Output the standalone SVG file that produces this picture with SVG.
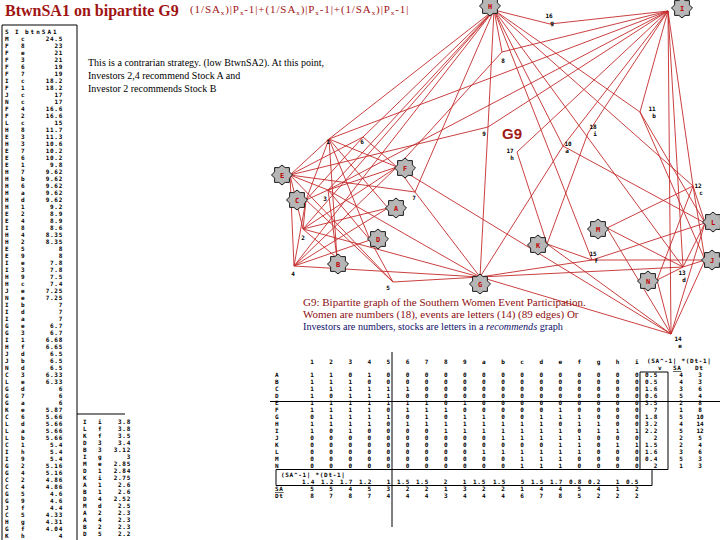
<svg xmlns="http://www.w3.org/2000/svg" width="720" height="540" viewBox="0 0 720 540">
<style>
.px{font-family:"DejaVu Sans Mono",monospace;font-size:6px;font-weight:bold;fill:#000;letter-spacing:0.7px}
.pxe{font-family:"DejaVu Sans Mono",monospace;font-size:6px;font-weight:bold;fill:#000;text-anchor:end;letter-spacing:0.7px}
.pxm{font-family:"DejaVu Sans Mono",monospace;font-size:6px;font-weight:bold;fill:#000;text-anchor:middle}
.row{font-family:"DejaVu Sans Mono",monospace;font-size:6px;font-weight:bold;fill:#000;letter-spacing:15.49px}
.nl{font-family:"DejaVu Sans Mono",monospace;font-size:7px;font-weight:bold;fill:#c00000;text-anchor:middle}
.wl{font-family:"DejaVu Sans Mono",monospace;font-size:6px;font-weight:bold;fill:#000;text-anchor:middle}
.ser{font-family:"Liberation Serif",serif}
.edge line{stroke:#c42a2a;stroke-width:0.9}
.rule{stroke:#000;stroke-width:1;fill:none}
</style>
<defs>
<polygon id="star" points="10.5,0 7.4,3.1 7.4,7.4 3.1,7.4 0,10 -3.1,7.4 -7.4,7.4 -7.4,3.1 -10.5,0 -7.4,-3.1 -7.4,-7.4 -3.1,-7.4 0,-10 3.1,-7.4 7.4,-7.4 7.4,-3.1" fill="#b6b6b6" stroke="#1a1a1a" stroke-width="1"/>
</defs>
<rect width="720" height="540" fill="#fff"/>

<!-- title -->
<text x="5" y="16" class="ser" font-size="16" font-weight="bold" fill="#a01414">BtwnSA1 on bipartite G9</text>
<text x="190" y="13" class="ser" font-size="11" letter-spacing="0.9" fill="#a01414">(1/SA<tspan font-size="7" dy="2">x</tspan><tspan dy="-2">)|P</tspan><tspan font-size="7" dy="2">x</tspan><tspan dy="-2">-1|+(1/SA</tspan><tspan font-size="7" dy="2">x</tspan><tspan dy="-2">)|P</tspan><tspan font-size="7" dy="2">x</tspan><tspan dy="-2">-1|+(1/SA</tspan><tspan font-size="7" dy="2">x</tspan><tspan dy="-2">)|P</tspan><tspan font-size="7" dy="2">x</tspan><tspan dy="-2">-1|</tspan></text>

<g id="note" class="ser" font-size="10" fill="#000">
<text x="88" y="66">This is a contrarian strategy. (low BtwnSA2). At this point,</text>
<text x="88" y="79">Investors 2,4 recommend Stock A and</text>
<text x="88" y="92">Investor 2  recommends Stock B</text>
</g>

<!-- left list -->
<g id="list">
<path class="rule" d="M2,25 H77 M2,25 V540 M77,25 V540 M77,414 H125"/>
<text class="px" y="34"><tspan x="5">S</tspan><tspan x="15">I</tspan><tspan x="25" letter-spacing="2">btnSA1</tspan></text>
<text class="px" y="41"><tspan x="5">M</tspan><tspan x="21">c</tspan></text><text class="pxe" x="63" y="41">24.5</text>
<text class="px" y="48"><tspan x="5">F</tspan><tspan x="21">8</tspan></text><text class="pxe" x="63" y="48">23</text>
<text class="px" y="55"><tspan x="5">F</tspan><tspan x="21">e</tspan></text><text class="pxe" x="63" y="55">21</text>
<text class="px" y="62"><tspan x="5">F</tspan><tspan x="21">3</tspan></text><text class="pxe" x="63" y="62">21</text>
<text class="px" y="69"><tspan x="5">F</tspan><tspan x="21">6</tspan></text><text class="pxe" x="63" y="69">19</text>
<text class="px" y="76"><tspan x="5">F</tspan><tspan x="21">7</tspan></text><text class="pxe" x="63" y="76">19</text>
<text class="px" y="83"><tspan x="5">I</tspan><tspan x="21">c</tspan></text><text class="pxe" x="63" y="83">18.2</text>
<text class="px" y="90"><tspan x="5">F</tspan><tspan x="21">1</tspan></text><text class="pxe" x="63" y="90">18.2</text>
<text class="px" y="97"><tspan x="5">J</tspan><tspan x="21">c</tspan></text><text class="pxe" x="63" y="97">17</text>
<text class="px" y="104"><tspan x="5">N</tspan><tspan x="21">c</tspan></text><text class="pxe" x="63" y="104">17</text>
<text class="px" y="111"><tspan x="5">F</tspan><tspan x="21">4</tspan></text><text class="pxe" x="63" y="111">16.6</text>
<text class="px" y="118"><tspan x="5">F</tspan><tspan x="21">2</tspan></text><text class="pxe" x="63" y="118">16.6</text>
<text class="px" y="125"><tspan x="5">L</tspan><tspan x="21">c</tspan></text><text class="pxe" x="63" y="125">15</text>
<text class="px" y="132"><tspan x="5">H</tspan><tspan x="21">8</tspan></text><text class="pxe" x="63" y="132">11.7</text>
<text class="px" y="139"><tspan x="5">E</tspan><tspan x="21">3</tspan></text><text class="pxe" x="63" y="139">11.3</text>
<text class="px" y="146"><tspan x="5">H</tspan><tspan x="21">3</tspan></text><text class="pxe" x="63" y="146">10.6</text>
<text class="px" y="153"><tspan x="5">E</tspan><tspan x="21">7</tspan></text><text class="pxe" x="63" y="153">10.2</text>
<text class="px" y="160"><tspan x="5">E</tspan><tspan x="21">6</tspan></text><text class="pxe" x="63" y="160">10.2</text>
<text class="px" y="167"><tspan x="5">E</tspan><tspan x="21">1</tspan></text><text class="pxe" x="63" y="167">9.8</text>
<text class="px" y="174"><tspan x="5">H</tspan><tspan x="21">7</tspan></text><text class="pxe" x="63" y="174">9.62</text>
<text class="px" y="181"><tspan x="5">H</tspan><tspan x="21">b</tspan></text><text class="pxe" x="63" y="181">9.62</text>
<text class="px" y="188"><tspan x="5">H</tspan><tspan x="21">6</tspan></text><text class="pxe" x="63" y="188">9.62</text>
<text class="px" y="195"><tspan x="5">H</tspan><tspan x="21">a</tspan></text><text class="pxe" x="63" y="195">9.62</text>
<text class="px" y="202"><tspan x="5">H</tspan><tspan x="21">d</tspan></text><text class="pxe" x="63" y="202">9.62</text>
<text class="px" y="209"><tspan x="5">H</tspan><tspan x="21">1</tspan></text><text class="pxe" x="63" y="209">9.2</text>
<text class="px" y="216"><tspan x="5">E</tspan><tspan x="21">2</tspan></text><text class="pxe" x="63" y="216">8.9</text>
<text class="px" y="223"><tspan x="5">E</tspan><tspan x="21">4</tspan></text><text class="pxe" x="63" y="223">8.9</text>
<text class="px" y="230"><tspan x="5">I</tspan><tspan x="21">8</tspan></text><text class="pxe" x="63" y="230">8.6</text>
<text class="px" y="237"><tspan x="5">H</tspan><tspan x="21">4</tspan></text><text class="pxe" x="63" y="237">8.35</text>
<text class="px" y="244"><tspan x="5">H</tspan><tspan x="21">2</tspan></text><text class="pxe" x="63" y="244">8.35</text>
<text class="px" y="251"><tspan x="5">E</tspan><tspan x="21">5</tspan></text><text class="pxe" x="63" y="251">8</text>
<text class="px" y="258"><tspan x="5">E</tspan><tspan x="21">9</tspan></text><text class="pxe" x="63" y="258">8</text>
<text class="px" y="265"><tspan x="5">I</tspan><tspan x="21">e</tspan></text><text class="pxe" x="63" y="265">7.8</text>
<text class="px" y="272"><tspan x="5">I</tspan><tspan x="21">3</tspan></text><text class="pxe" x="63" y="272">7.8</text>
<text class="px" y="279"><tspan x="5">H</tspan><tspan x="21">9</tspan></text><text class="pxe" x="63" y="279">7.5</text>
<text class="px" y="286"><tspan x="5">H</tspan><tspan x="21">c</tspan></text><text class="pxe" x="63" y="286">7.4</text>
<text class="px" y="293"><tspan x="5">J</tspan><tspan x="21">e</tspan></text><text class="pxe" x="63" y="293">7.25</text>
<text class="px" y="300"><tspan x="5">N</tspan><tspan x="21">e</tspan></text><text class="pxe" x="63" y="300">7.25</text>
<text class="px" y="307"><tspan x="5">I</tspan><tspan x="21">b</tspan></text><text class="pxe" x="63" y="307">7</text>
<text class="px" y="314"><tspan x="5">I</tspan><tspan x="21">d</tspan></text><text class="pxe" x="63" y="314">7</text>
<text class="px" y="321"><tspan x="5">I</tspan><tspan x="21">a</tspan></text><text class="pxe" x="63" y="321">7</text>
<text class="px" y="328"><tspan x="5">G</tspan><tspan x="21">e</tspan></text><text class="pxe" x="63" y="328">6.7</text>
<text class="px" y="335"><tspan x="5">G</tspan><tspan x="21">3</tspan></text><text class="pxe" x="63" y="335">6.7</text>
<text class="px" y="342"><tspan x="5">I</tspan><tspan x="21">1</tspan></text><text class="pxe" x="63" y="342">6.68</text>
<text class="px" y="349"><tspan x="5">H</tspan><tspan x="21">f</tspan></text><text class="pxe" x="63" y="349">6.65</text>
<text class="px" y="356"><tspan x="5">J</tspan><tspan x="21">d</tspan></text><text class="pxe" x="63" y="356">6.5</text>
<text class="px" y="363"><tspan x="5">J</tspan><tspan x="21">b</tspan></text><text class="pxe" x="63" y="363">6.5</text>
<text class="px" y="370"><tspan x="5">N</tspan><tspan x="21">d</tspan></text><text class="pxe" x="63" y="370">6.5</text>
<text class="px" y="377"><tspan x="5">C</tspan><tspan x="21">3</tspan></text><text class="pxe" x="63" y="377">6.33</text>
<text class="px" y="384"><tspan x="5">L</tspan><tspan x="21">e</tspan></text><text class="pxe" x="63" y="384">6.33</text>
<text class="px" y="391"><tspan x="5">G</tspan><tspan x="21">d</tspan></text><text class="pxe" x="63" y="391">6</text>
<text class="px" y="398"><tspan x="5">G</tspan><tspan x="21">7</tspan></text><text class="pxe" x="63" y="398">6</text>
<text class="px" y="405"><tspan x="5">G</tspan><tspan x="21">a</tspan></text><text class="pxe" x="63" y="405">6</text>
<text class="px" y="412"><tspan x="5">K</tspan><tspan x="21">e</tspan></text><text class="pxe" x="63" y="412">5.87</text>
<text class="px" y="419"><tspan x="5">C</tspan><tspan x="21">6</tspan></text><text class="pxe" x="63" y="419">5.66</text>
<text class="px" y="426"><tspan x="5">L</tspan><tspan x="21">d</tspan></text><text class="pxe" x="63" y="426">5.66</text>
<text class="px" y="433"><tspan x="5">L</tspan><tspan x="21">a</tspan></text><text class="pxe" x="63" y="433">5.66</text>
<text class="px" y="440"><tspan x="5">L</tspan><tspan x="21">b</tspan></text><text class="pxe" x="63" y="440">5.66</text>
<text class="px" y="447"><tspan x="5">C</tspan><tspan x="21">1</tspan></text><text class="pxe" x="63" y="447">5.4</text>
<text class="px" y="454"><tspan x="5">I</tspan><tspan x="21">h</tspan></text><text class="pxe" x="63" y="454">5.4</text>
<text class="px" y="461"><tspan x="5">I</tspan><tspan x="21">9</tspan></text><text class="pxe" x="63" y="461">5.4</text>
<text class="px" y="468"><tspan x="5">G</tspan><tspan x="21">2</tspan></text><text class="pxe" x="63" y="468">5.16</text>
<text class="px" y="475"><tspan x="5">G</tspan><tspan x="21">4</tspan></text><text class="pxe" x="63" y="475">5.16</text>
<text class="px" y="482"><tspan x="5">C</tspan><tspan x="21">2</tspan></text><text class="pxe" x="63" y="482">4.86</text>
<text class="px" y="489"><tspan x="5">C</tspan><tspan x="21">4</tspan></text><text class="pxe" x="63" y="489">4.86</text>
<text class="px" y="496"><tspan x="5">G</tspan><tspan x="21">5</tspan></text><text class="pxe" x="63" y="496">4.6</text>
<text class="px" y="503"><tspan x="5">G</tspan><tspan x="21">9</tspan></text><text class="pxe" x="63" y="503">4.6</text>
<text class="px" y="510"><tspan x="5">J</tspan><tspan x="21">f</tspan></text><text class="pxe" x="63" y="510">4.4</text>
<text class="px" y="517"><tspan x="5">C</tspan><tspan x="21">5</tspan></text><text class="pxe" x="63" y="517">4.33</text>
<text class="px" y="524"><tspan x="5">H</tspan><tspan x="21">g</tspan></text><text class="pxe" x="63" y="524">4.31</text>
<text class="px" y="531"><tspan x="5">G</tspan><tspan x="21">f</tspan></text><text class="pxe" x="63" y="531">4.04</text>
<text class="px" y="538"><tspan x="5">K</tspan><tspan x="21">h</tspan></text><text class="pxe" x="63" y="538">4</text>

<text class="px" y="424"><tspan x="83">I</tspan><tspan x="98">i</tspan></text><text class="pxe" x="131" y="424">3.8</text>
<text class="px" y="431"><tspan x="83">L</tspan><tspan x="98">f</tspan></text><text class="pxe" x="131" y="431">3.8</text>
<text class="px" y="438"><tspan x="83">K</tspan><tspan x="98">f</tspan></text><text class="pxe" x="131" y="438">3.5</text>
<text class="px" y="445"><tspan x="83">D</tspan><tspan x="98">3</tspan></text><text class="pxe" x="131" y="445">3.4</text>
<text class="px" y="452"><tspan x="83">B</tspan><tspan x="98">3</tspan></text><text class="pxe" x="131" y="452">3.12</text>
<text class="px" y="459"><tspan x="83">I</tspan><tspan x="98">g</tspan></text><text class="pxe" x="131" y="459">3</text>
<text class="px" y="466"><tspan x="83">M</tspan><tspan x="98">e</tspan></text><text class="pxe" x="131" y="466">2.85</text>
<text class="px" y="473"><tspan x="83">D</tspan><tspan x="98">1</tspan></text><text class="pxe" x="131" y="473">2.84</text>
<text class="px" y="480"><tspan x="83">K</tspan><tspan x="98">i</tspan></text><text class="pxe" x="131" y="480">2.75</text>
<text class="px" y="487"><tspan x="83">A</tspan><tspan x="98">1</tspan></text><text class="pxe" x="131" y="487">2.6</text>
<text class="px" y="494"><tspan x="83">B</tspan><tspan x="98">1</tspan></text><text class="pxe" x="131" y="494">2.6</text>
<text class="px" y="501"><tspan x="83">D</tspan><tspan x="98">4</tspan></text><text class="pxe" x="131" y="501">2.52</text>
<text class="px" y="508"><tspan x="83">M</tspan><tspan x="98">d</tspan></text><text class="pxe" x="131" y="508">2.5</text>
<text class="px" y="515"><tspan x="83">A</tspan><tspan x="98">2</tspan></text><text class="pxe" x="131" y="515">2.3</text>
<text class="px" y="522"><tspan x="83">A</tspan><tspan x="98">4</tspan></text><text class="pxe" x="131" y="522">2.3</text>
<text class="px" y="529"><tspan x="83">B</tspan><tspan x="98">2</tspan></text><text class="pxe" x="131" y="529">2.3</text>
<text class="px" y="536"><tspan x="83">D</tspan><tspan x="98">5</tspan></text><text class="pxe" x="131" y="536">2.2</text>
</g>

<!-- connectors -->
<g id="edges" class="edge">
<line x1="388" y1="208" x2="329" y2="139"/><line x1="388" y1="208" x2="303" y2="229"/><line x1="388" y1="208" x2="294" y2="266"/>
<line x1="337" y1="258" x2="329" y2="139"/><line x1="337" y1="258" x2="303" y2="229"/><line x1="337" y1="258" x2="328" y2="190"/>
<line x1="306" y1="200" x2="329" y2="139"/><line x1="306" y1="200" x2="303" y2="229"/><line x1="306" y1="200" x2="328" y2="190"/><line x1="306" y1="200" x2="294" y2="266"/><line x1="306" y1="200" x2="393" y2="282"/><line x1="306" y1="200" x2="363" y2="137"/>
<line x1="370" y1="240" x2="329" y2="139"/><line x1="370" y1="240" x2="328" y2="190"/><line x1="370" y1="240" x2="294" y2="266"/><line x1="370" y1="240" x2="393" y2="282"/>
<line x1="290" y1="175" x2="329" y2="139"/><line x1="290" y1="175" x2="303" y2="229"/><line x1="290" y1="175" x2="328" y2="190"/><line x1="290" y1="175" x2="294" y2="266"/><line x1="290" y1="175" x2="393" y2="282"/><line x1="290" y1="175" x2="363" y2="137"/><line x1="290" y1="175" x2="415" y2="192"/><line x1="290" y1="175" x2="488" y2="127"/>
<line x1="397" y1="167" x2="329" y2="139"/><line x1="397" y1="167" x2="303" y2="229"/><line x1="397" y1="167" x2="328" y2="190"/><line x1="397" y1="167" x2="294" y2="266"/><line x1="397" y1="167" x2="363" y2="137"/><line x1="397" y1="167" x2="415" y2="192"/><line x1="397" y1="167" x2="502" y2="52"/><line x1="397" y1="167" x2="671" y2="334"/>
<line x1="480" y1="277" x2="303" y2="229"/><line x1="480" y1="277" x2="328" y2="190"/><line x1="480" y1="277" x2="294" y2="266"/><line x1="480" y1="277" x2="393" y2="282"/><line x1="480" y1="277" x2="415" y2="192"/><line x1="480" y1="277" x2="488" y2="127"/><line x1="480" y1="277" x2="563" y2="146"/><line x1="480" y1="277" x2="683" y2="267"/><line x1="480" y1="277" x2="671" y2="334"/><line x1="480" y1="277" x2="592" y2="260"/>
<line x1="494" y1="10" x2="329" y2="139"/><line x1="494" y1="10" x2="303" y2="229"/><line x1="494" y1="10" x2="328" y2="190"/><line x1="494" y1="10" x2="294" y2="266"/><line x1="494" y1="10" x2="363" y2="137"/><line x1="494" y1="10" x2="415" y2="192"/><line x1="494" y1="10" x2="502" y2="52"/><line x1="494" y1="10" x2="488" y2="127"/><line x1="494" y1="10" x2="563" y2="146"/><line x1="494" y1="10" x2="640" y2="112"/><line x1="494" y1="10" x2="693" y2="186"/><line x1="494" y1="10" x2="683" y2="267"/><line x1="494" y1="10" x2="592" y2="260"/><line x1="494" y1="10" x2="550" y2="24"/>
<line x1="668" y1="11" x2="329" y2="139"/><line x1="668" y1="11" x2="328" y2="190"/><line x1="668" y1="11" x2="502" y2="52"/><line x1="668" y1="11" x2="488" y2="127"/><line x1="668" y1="11" x2="563" y2="146"/><line x1="668" y1="11" x2="640" y2="112"/><line x1="668" y1="11" x2="693" y2="186"/><line x1="668" y1="11" x2="683" y2="267"/><line x1="668" y1="11" x2="671" y2="334"/><line x1="668" y1="11" x2="550" y2="24"/><line x1="668" y1="11" x2="517" y2="152"/><line x1="668" y1="11" x2="588" y2="133"/>
<line x1="705" y1="260" x2="640" y2="112"/><line x1="705" y1="260" x2="693" y2="186"/><line x1="705" y1="260" x2="683" y2="267"/><line x1="705" y1="260" x2="671" y2="334"/><line x1="705" y1="260" x2="592" y2="260"/>
<line x1="547" y1="244" x2="671" y2="334"/><line x1="547" y1="244" x2="592" y2="260"/><line x1="547" y1="244" x2="517" y2="152"/><line x1="547" y1="244" x2="588" y2="133"/>
<line x1="705" y1="223" x2="563" y2="146"/><line x1="705" y1="223" x2="640" y2="112"/><line x1="705" y1="223" x2="693" y2="186"/><line x1="705" y1="223" x2="683" y2="267"/><line x1="705" y1="223" x2="671" y2="334"/><line x1="705" y1="223" x2="592" y2="260"/>
<line x1="607" y1="228" x2="693" y2="186"/><line x1="607" y1="228" x2="683" y2="267"/><line x1="607" y1="228" x2="671" y2="334"/>
<line x1="657" y1="280" x2="693" y2="186"/><line x1="657" y1="280" x2="683" y2="267"/><line x1="657" y1="280" x2="671" y2="334"/>
</g>

<!-- event nodes -->
<g id="nH"><use href="#star" x="490" y="6"/><text class="nl" x="490" y="8.5">H</text></g>
<g id="nI"><use href="#star" x="682" y="8"/><text class="nl" x="682" y="10.5">I</text></g>
<g id="nE"><use href="#star" x="282" y="175"/><text class="nl" x="282" y="177.5">E</text></g>
<g id="nF"><use href="#star" x="405" y="168"/><text class="nl" x="405" y="170.5">F</text></g>
<g id="nC"><use href="#star" x="297" y="200"/><text class="nl" x="297" y="202.5">C</text></g>
<g id="nA"><use href="#star" x="396" y="208"/><text class="nl" x="396" y="210.5">A</text></g>
<g id="nD"><use href="#star" x="378" y="239"/><text class="nl" x="378" y="241.5">D</text></g>
<g id="nB"><use href="#star" x="338" y="264"/><text class="nl" x="338" y="266.5">B</text></g>
<g id="nG"><use href="#star" x="480" y="284"/><text class="nl" x="480" y="286.5">G</text></g>
<g id="nK"><use href="#star" x="538" y="245"/><text class="nl" x="538" y="247.5">K</text></g>
<g id="nM"><use href="#star" x="598" y="229"/><text class="nl" x="598" y="231.5">M</text></g>
<g id="nN"><use href="#star" x="648" y="281"/><text class="nl" x="648" y="283.5">N</text></g>
<g id="nL"><use href="#star" x="713" y="222"/><text class="nl" x="713" y="224.5">L</text></g>
<g id="nJ"><use href="#star" x="712" y="260"/><text class="nl" x="712" y="262.5">J</text></g>

<!-- woman nodes -->
<g id="w1"><text class="wl" x="328" y="144">1</text></g>
<g id="w2"><text class="wl" x="303" y="240">2</text></g>
<g id="w3"><text class="wl" x="325" y="201">3</text></g>
<g id="w4"><text class="wl" x="293" y="276">4</text></g>
<g id="w5"><text class="wl" x="388" y="290">5</text></g>
<g id="w6"><text class="wl" x="362" y="144">6</text></g>
<g id="w7"><text class="wl" x="414" y="200">7</text></g>
<g id="w8"><text class="wl" x="503" y="63">8</text></g>
<g id="w9"><text class="wl" x="484" y="136">9</text></g>
<g id="w10"><text class="wl" x="568" y="146">10</text><text class="wl" x="567" y="153">a</text></g>
<g id="w11"><text class="wl" x="652" y="111">11</text><text class="wl" x="654" y="118">b</text></g>
<g id="w12"><text class="wl" x="698" y="188">12</text><text class="wl" x="701" y="195">c</text></g>
<g id="w13"><text class="wl" x="682" y="275">13</text><text class="wl" x="684" y="282">d</text></g>
<g id="w14"><text class="wl" x="678" y="341">14</text><text class="wl" x="680" y="348">e</text></g>
<g id="w15"><text class="wl" x="593" y="256">15</text><text class="wl" x="596" y="263">f</text></g>
<g id="w16"><text class="wl" x="549" y="18">16</text><text class="wl" x="552" y="25">g</text></g>
<g id="w17"><text class="wl" x="510" y="153">17</text><text class="wl" x="512" y="160">h</text></g>
<g id="w18"><text class="wl" x="593" y="129">18</text><text class="wl" x="595" y="136">i</text></g>

<text x="502" y="138.5" font-family="Liberation Sans,sans-serif" font-size="15" font-weight="bold" fill="#a01818">G9</text>

<g id="caption" class="ser">
<text x="303" y="306" font-size="11" fill="#8c1010">G9: Bipartite graph of the Southern Women Event Participation.</text>
<text x="303" y="318" font-size="11" fill="#8c1010">Women are numbers (18), events are letters (14)  (89 edges)  Or</text>
<text x="303" y="330" font-size="10.2" fill="#10106a">Investors are numbers, stocks are letters in a <tspan font-style="italic">recommends</tspan> graph</text>
</g>

<!-- matrix table -->
<g id="table">
<path class="rule" d="M270,401.5 H720 M392,352 V527 M640,372 H668 V469.5 M640,372 V469.5 M276,469.5 H668 M276,469.5 V485.5 H652 V469.5"/>
<text class="row" x="310.2" y="364">123456789abcdefgh</text><text class="pxm" x="636.7" y="364">i</text>
<text class="px" x="647" y="363" letter-spacing="0.3">(SA^-1| *(Dt-1|</text>
<text class="px" x="658" y="370">v</text>
<text class="px" x="673" y="370" text-decoration="underline">SA</text>
<text class="px" x="695" y="370">Dt</text>
<g class="px">
<text x="275" y="377">A</text><text x="275" y="384">B</text><text x="275" y="391">C</text><text x="275" y="398">D</text><text x="275" y="405">E</text><text x="275" y="412">F</text><text x="275" y="419">G</text><text x="275" y="426">H</text><text x="275" y="433">I</text><text x="275" y="440">J</text><text x="275" y="447">K</text><text x="275" y="454">L</text><text x="275" y="461">M</text><text x="275" y="468">N</text>
</g>
<g class="row">
<text x="310.2" y="377">11010000000000000</text>
<text x="310.2" y="384">11100000000000000</text>
<text x="310.2" y="391">11111100000000000</text>
<text x="310.2" y="398">10111000000000000</text>
<text x="310.2" y="405">11111110100000000</text>
<text x="310.2" y="412">11110111000001000</text>
<text x="310.2" y="419">01111010110011100</text>
<text x="310.2" y="426">11110111111110110</text>
<text x="310.2" y="433">10100001111111011</text>
<text x="310.2" y="440">00000000001111100</text>
<text x="310.2" y="447">00000000000001101</text>
<text x="310.2" y="454">00000000011111100</text>
<text x="310.2" y="461">00000000000111000</text>
<text x="310.2" y="468">00000000000111000</text>
</g>
<g class="pxm">
<text x="636.7" y="377">0</text><text x="636.7" y="384">0</text><text x="636.7" y="391">0</text><text x="636.7" y="398">0</text><text x="636.7" y="405">0</text><text x="636.7" y="412">0</text><text x="636.7" y="419">0</text><text x="636.7" y="426">0</text><text x="636.7" y="433">1</text><text x="636.7" y="440">0</text><text x="636.7" y="447">1</text><text x="636.7" y="454">0</text><text x="636.7" y="461">0</text><text x="636.7" y="468">0</text>
</g>
<g class="pxe">
<text x="658" y="377">0.5</text><text x="658" y="384">0.5</text><text x="658" y="391">1.6</text><text x="658" y="398">0.6</text><text x="658" y="405">3.5</text><text x="658" y="412">7</text><text x="658" y="419">1.8</text><text x="658" y="426">3.2</text><text x="658" y="433">2.2</text><text x="658" y="440">2</text><text x="658" y="447">1.5</text><text x="658" y="454">1.6</text><text x="658" y="461">0.4</text><text x="658" y="468">2</text>
</g>
<g class="pxm">
<text x="681" y="377">4</text><text x="681" y="384">4</text><text x="681" y="391">3</text><text x="681" y="398">5</text><text x="681" y="405">2</text><text x="681" y="412">1</text><text x="681" y="419">5</text><text x="681" y="426">4</text><text x="681" y="433">5</text><text x="681" y="440">2</text><text x="681" y="447">2</text><text x="681" y="454">3</text><text x="681" y="461">5</text><text x="681" y="468">1</text>
<text x="700" y="377">3</text><text x="700" y="384">3</text><text x="700" y="391">6</text><text x="700" y="398">4</text><text x="700" y="405">8</text><text x="700" y="412">8</text><text x="700" y="419">10</text><text x="700" y="426">14</text><text x="700" y="433">12</text><text x="700" y="440">5</text><text x="700" y="447">4</text><text x="700" y="454">6</text><text x="700" y="461">3</text><text x="700" y="468">3</text>
</g>
<text class="px" x="281" y="476.5">(SA^-1| *(Dt-1|</text>
<g class="pxe">
<text x="315" y="483.5">1.4</text><text x="334" y="483.5">1.2</text><text x="353" y="483.5">1.7</text><text x="372" y="483.5">1.2</text><text x="391" y="483.5">1</text><text x="410" y="483.5">1.5</text><text x="429" y="483.5">1.5</text><text x="448" y="483.5">2</text><text x="467" y="483.5">1</text><text x="486" y="483.5">1.5</text><text x="506" y="483.5">1.5</text><text x="525" y="483.5">5</text><text x="544" y="483.5">1.5</text><text x="563" y="483.5">1.7</text><text x="582" y="483.5">0.8</text><text x="601" y="483.5">0.2</text><text x="620" y="483.5">1</text><text x="639" y="483.5">0.5</text>
</g>
<text class="px" x="275" y="491" text-decoration="underline">SA</text>
<text class="px" x="275" y="498">Dt</text>
<text class="row" x="310.2" y="491">55453221322144541</text><text class="pxm" x="636.7" y="491">2</text>
<text class="row" x="310.2" y="498">87874443444678522</text><text class="pxm" x="636.7" y="498">2</text>
</g>
</svg>
